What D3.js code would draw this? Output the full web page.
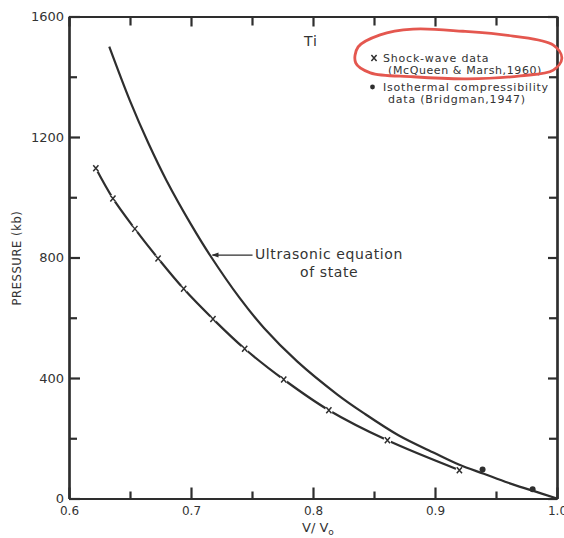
<!DOCTYPE html>
<html>
<head>
<meta charset="utf-8">
<script src="https://cdn.jsdelivr.net/npm/d3@7"></script>
<style>
  body { margin: 0; background: #fff; }
  svg { display: block; }
  text { font-family: "DejaVu Sans", sans-serif; fill: #333; }
</style>
</head>
<body>
<svg id="canvas" width="564" height="538"></svg>
<script>
// shock-wave data, McQueen & Marsh 1960 (x marks)
const shockV = [0.622, 0.636, 0.654, 0.673, 0.694, 0.718, 0.744, 0.776, 0.813, 0.861, 0.920];
const shockP = [1096, 996, 895, 797, 696, 596, 497, 395, 293, 193, 94];

// isothermal compressibility, Bridgman 1947 (dots)
const isoV = [0.939, 0.980];
const isoP = [96, 31];

// ultrasonic equation of state
const ultraV = [0.633, 0.65, 0.665, 0.68, 0.70, 0.716, 0.74, 0.76, 0.787, 0.82, 0.841, 0.87, 0.90, 0.92, 0.94, 0.96, 0.98, 1.00];
const ultraP = [1500, 1320, 1180, 1055, 910, 805, 665, 565, 455, 345, 285, 210, 150, 112, 82, 52, 26, 0];

// tick values
const xMajor = [0.6, 0.7, 0.8, 0.9, 1.0];
const xMinor = [0.65, 0.75, 0.85, 0.95];
const yMajor = [0, 400, 800, 1200, 1600];
const yMinor = [200, 600, 1000, 1400];

// red hand-drawn ring around the shock-wave legend entry (data units)
const ringV = [0.837, 0.855, 0.882, 0.923, 0.964, 0.997, 1.004, 0.997, 0.970, 0.926, 0.882, 0.847, 0.835];
const ringP = [1499, 1539, 1558, 1551, 1535, 1505, 1462, 1422, 1403, 1393, 1400, 1413, 1446];

const INK = "#2e2e2e";
const svg = d3.select("#canvas");

const x = d3.scaleLinear().domain([0.6, 1.0]).range([69, 557]);
const y = d3.scaleLinear().domain([0, 1600]).range([498.5, 16.5]);

function styleAxis(g) {
  g.selectAll("path, line").attr("stroke", INK).attr("stroke-width", 2.2);
  g.selectAll("text").attr("fill", "#333").attr("font-family", "DejaVu Sans, sans-serif");
}

// minor ticks (no labels)
svg.append("g").attr("transform", `translate(0,${y(0)})`)
  .call(d3.axisBottom(x).tickValues(xMinor).tickSizeInner(-7).tickSizeOuter(0).tickFormat(""))
  .call(styleAxis);
svg.append("g").attr("transform", `translate(0,${y(1600)})`)
  .call(d3.axisTop(x).tickValues(xMinor).tickSizeInner(-9).tickSizeOuter(0).tickFormat(""))
  .call(styleAxis);
svg.append("g").attr("transform", `translate(${x(0.6)},0)`)
  .call(d3.axisLeft(y).tickValues(yMinor).tickSizeInner(-8).tickSizeOuter(0).tickFormat(""))
  .call(styleAxis);
svg.append("g").attr("transform", `translate(${x(1.0)},0)`)
  .call(d3.axisRight(y).tickValues(yMinor).tickSizeInner(-8).tickSizeOuter(0).tickFormat(""))
  .call(styleAxis);

// major ticks
svg.append("g").attr("transform", `translate(0,${y(0)})`)
  .call(d3.axisBottom(x).tickValues(xMajor).tickSizeInner(-11).tickSizeOuter(0).tickPadding(8).tickFormat(d3.format(".1f")))
  .call(styleAxis)
  .call(g => g.selectAll("text").attr("font-size", 12));
svg.append("g").attr("transform", `translate(0,${y(1600)})`)
  .call(d3.axisTop(x).tickValues(xMajor).tickSizeInner(-10).tickSizeOuter(0).tickFormat(""))
  .call(styleAxis);
svg.append("g").attr("transform", `translate(${x(0.6)},0)`)
  .call(d3.axisLeft(y).tickValues(yMajor).tickSizeInner(-11).tickSizeOuter(0).tickPadding(5).tickFormat(d3.format("d")))
  .call(styleAxis)
  .call(g => g.selectAll("text").attr("font-size", 13));
svg.append("g").attr("transform", `translate(${x(1.0)},0)`)
  .call(d3.axisRight(y).tickValues(yMajor).tickSizeInner(-9).tickSizeOuter(0).tickFormat(""))
  .call(styleAxis);

// axis titles
svg.append("text")
  .attr("transform", "translate(21,258) rotate(-90)")
  .attr("text-anchor", "middle")
  .attr("font-size", 11.5)
  .attr("letter-spacing", 0.6)
  .text("PRESSURE (kb)");

const xt = svg.append("text").attr("x", 302).attr("y", 532).attr("font-size", 13);
xt.append("tspan").text("V/ V");
xt.append("tspan").attr("font-size", 9).attr("dy", 2.5).text("o");

// curves
const line = d3.line().x(d => x(d[0])).y(d => y(d[1]));

svg.append("path")
  .datum(d3.zip(ultraV, ultraP))
  .attr("d", line.curve(d3.curveCatmullRom.alpha(0.5)))
  .attr("fill", "none").attr("stroke", INK).attr("stroke-width", 2.2);

const shock = d3.zip(shockV, shockP);
svg.append("path")
  .datum(shock)
  .attr("d", line.curve(d3.curveCatmullRom.alpha(0.5)))
  .attr("fill", "none").attr("stroke", INK).attr("stroke-width", 2.2);

function xMark(g, cx, cy) {
  g.append("circle").attr("cx", cx).attr("cy", cy).attr("r", 3.8).attr("fill", "#fff");
  g.append("path")
    .attr("d", `M${cx - 2.6},${cy - 3}L${cx + 2.6},${cy + 3}M${cx + 2.6},${cy - 3}L${cx - 2.6},${cy + 3}`)
    .attr("stroke", INK).attr("stroke-width", 1.5);
}

const marks = svg.append("g");
shock.forEach(d => xMark(marks, x(d[0]), y(d[1])));

svg.append("g").selectAll("circle")
  .data(d3.zip(isoV, isoP))
  .join("circle")
  .attr("cx", d => x(d[0])).attr("cy", d => y(d[1]))
  .attr("r", 3).attr("fill", INK);

// labels
svg.append("text").attr("x", 304).attr("y", 46).attr("font-size", 14).attr("letter-spacing", 1).text("Ti");

// annotation arrow for the ultrasonic curve
const tipX = x(0.716), tipY = y(808);
svg.append("path")
  .attr("d", `M${tipX + 42},${tipY}L${tipX + 2},${tipY}`)
  .attr("stroke", INK).attr("stroke-width", 1.3);
svg.append("path")
  .attr("d", `M${tipX + 1},${tipY}L${tipX + 8},${tipY - 2.5}L${tipX + 8},${tipY + 2.5}Z`)
  .attr("fill", INK);
svg.append("text").attr("x", 255).attr("y", 259).attr("font-size", 14).attr("letter-spacing", 0.6)
  .text("Ultrasonic equation");
svg.append("text").attr("x", 300).attr("y", 277).attr("font-size", 14).attr("letter-spacing", 0.6)
  .text("of state");

// legend
const leg = svg.append("g");
xMark(leg, 374, 58);
leg.append("text").attr("x", 383).attr("y", 62).attr("font-size", 11).attr("letter-spacing", 0.8).text("Shock-wave data");
leg.append("text").attr("x", 388).attr("y", 74).attr("font-size", 11).attr("letter-spacing", 0.6).text("(McQueen & Marsh,1960)");
leg.append("circle").attr("cx", 372.5).attr("cy", 87).attr("r", 2.4).attr("fill", INK);
leg.append("text").attr("x", 383).attr("y", 91).attr("font-size", 11).attr("letter-spacing", 0.8).text("Isothermal compressibility");
leg.append("text").attr("x", 388).attr("y", 103).attr("font-size", 11).attr("letter-spacing", 0.8).text("data (Bridgman,1947)");

// red highlight ring
svg.append("path")
  .datum(d3.zip(ringV, ringP))
  .attr("d", d3.line().x(d => x(d[0])).y(d => y(d[1])).curve(d3.curveCatmullRomClosed.alpha(0.5)))
  .attr("fill", "none").attr("stroke", "#e4574f").attr("stroke-width", 2.8);
</script>
</body>
</html>
